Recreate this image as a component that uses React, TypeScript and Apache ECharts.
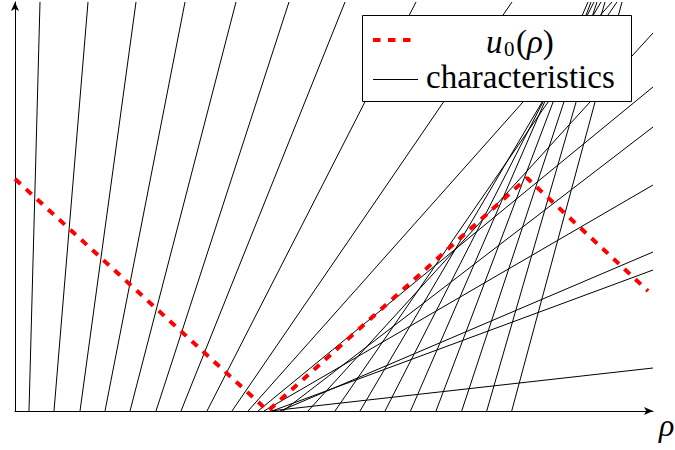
import React, { useEffect, useRef } from "react";
import * as echarts from "echarts";

// initial datum u0(rho): break points
const redX = [0, 2.53, 5.12, 6.33];
const redY = [2.32, 0, 2.33, 1.2];

// characteristics: start on the rho axis, end at the top or right border
const charStartX = [
  0.14, 0.39, 0.65, 0.9, 1.15, 1.41, 1.66, 1.92, 2.17, 2.33,
  2.43, 2.49, 2.57, 2.55, 2.65, 2.68, 2.93,
  3.2, 3.45, 3.7, 3.955, 4.21, 4.467, 4.717, 4.967,
];
const charEndX = [
  0.25, 0.73, 1.21, 1.7, 2.21, 2.74, 3.3, 4.01, 4.97, 5.97,
  6.38, 6.38, 6.38, 6.38, 6.38, 6.38, 6.38,
  6.02, 5.86, 5.79, 5.73, 5.76, 5.82, 5.9, 6.07,
];
const charEndY = [
  4.09, 4.09, 4.09, 4.09, 4.09, 4.09, 4.09, 4.09, 4.09, 4.09,
  3.24, 2.26, 1.41, 0.43, 1.59, 2.84, 3.78,
  4.09, 4.09, 4.09, 4.09, 4.09, 4.09, 4.09, 4.09,
];

const X_MAX = 6.38;
const Y_MAX = 4.09;

const legendLabels = ["characteristics"];
const axisLabel = "ρ";

const SERIF = '"Liberation Serif", "Times New Roman", serif';

export default function App() {
  const ref = useRef<HTMLDivElement>(null);
  useEffect(() => {
    const chart = echarts.init(ref.current!, null, { renderer: "svg" });
    const charSeries = charStartX.map((x0, i) => ({
      type: "line",
      name: "characteristics",
      data: [
        [x0, 0],
        [charEndX[i], charEndY[i]],
      ],
      symbol: "none",
      silent: true,
      lineStyle: { color: "#000", width: 1 },
      z: 2,
    }));
    const axisCommon = {
      type: "value",
      axisLine: {
        show: true,
        onZero: false,
        symbol: ["none", "arrow"],
        symbolSize: [6, 9],
        lineStyle: { color: "#000", width: 1 },
      },
      axisTick: { show: false },
      axisLabel: { show: false },
      splitLine: { show: false },
    };
    chart.setOption({
      animation: false,
      backgroundColor: "#fff",
      grid: { left: 15, right: 22, top: 2, bottom: 39 },
      xAxis: { ...axisCommon, min: 0, max: X_MAX },
      yAxis: { ...axisCommon, min: 0, max: Y_MAX },
      series: [
        ...charSeries,
        {
          type: "line",
          name: "u0",
          data: redX.map((x, i) => [x, redY[i]]),
          symbol: "none",
          silent: true,
          lineStyle: { color: "#ff0000", width: 4, type: [7.5, 7.5] },
          z: 5,
        },
      ],
      graphic: [
        {
          type: "rect",
          z: 100,
          shape: { x: 362.5, y: 15.5, width: 269, height: 86 },
          style: { fill: "#fff", stroke: "#000", lineWidth: 1 },
        },
        {
          type: "line",
          z: 101,
          shape: { x1: 373, y1: 40, x2: 413, y2: 40 },
          style: { stroke: "#ff0000", lineWidth: 4, lineDash: [7.5, 7.5] },
        },
        {
          type: "line",
          z: 101,
          shape: { x1: 373, y1: 79.5, x2: 418, y2: 79.5 },
          style: { stroke: "#000", lineWidth: 1 },
        },
        {
          type: "text",
          z: 101,
          style: {
            text: "u",
            x: 486,
            y: 42,
            fill: "#000",
            fontSize: 33,
            fontStyle: "italic",
            fontFamily: SERIF,
            verticalAlign: "middle",
          },
        },
        {
          type: "text",
          z: 101,
          style: {
            text: "0",
            x: 504,
            y: 48.5,
            fill: "#000",
            fontSize: 21,
            fontFamily: SERIF,
            verticalAlign: "middle",
          },
        },
        {
          type: "text",
          z: 101,
          style: {
            text: "{n|(}{i|ρ}{n|)}",
            x: 516,
            y: 42,
            fill: "#000",
            fontSize: 33,
            fontFamily: SERIF,
            verticalAlign: "middle",
            rich: {
              n: { fontSize: 33, fontFamily: SERIF, fill: "#000" },
              i: { fontSize: 33, fontFamily: SERIF, fontStyle: "italic", fill: "#000" },
            },
          },
        },
        {
          type: "text",
          z: 101,
          style: {
            text: legendLabels[0],
            x: 426,
            y: 77,
            fill: "#000",
            fontSize: 33,
            fontFamily: SERIF,
            verticalAlign: "middle",
          },
        },
        {
          type: "text",
          z: 101,
          style: {
            text: axisLabel,
            x: 659,
            y: 425,
            fill: "#000",
            fontSize: 32,
            fontStyle: "italic",
            fontFamily: SERIF,
            verticalAlign: "middle",
          },
        },
      ],
    });
    return () => chart.dispose();
  }, []);
  return (
    <div
      ref={ref}
      style={{ position: "fixed", left: 0, top: 0, width: 675, height: 450, background: "#fff" }}
    />
  );
}
